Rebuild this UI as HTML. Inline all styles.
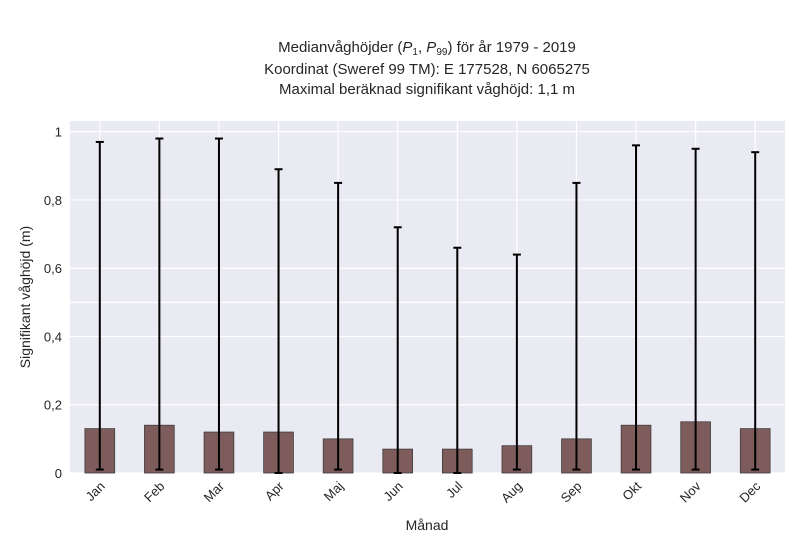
<!DOCTYPE html>
<html><head><meta charset="utf-8"><style>
body{margin:0;background:#fff;}
svg text{font-family:"Liberation Sans",sans-serif;fill:#262626;}
</style></head><body>
<svg id="chart" width="800" height="550" xmlns="http://www.w3.org/2000/svg">
<g>
<text x="427" y="52" font-size="15" text-anchor="middle">Medianvåghöjder (<tspan font-style="italic">P</tspan><tspan font-size="10" dy="3">1</tspan><tspan dy="-3">, </tspan><tspan font-style="italic">P</tspan><tspan font-size="10" dy="3">99</tspan><tspan dy="-3">) för år 1979 - 2019</tspan></text>
<text x="427" y="74" font-size="15" text-anchor="middle">Koordinat (Sweref 99 TM): E 177528, N 6065275</text>
<text x="427" y="94" font-size="15" text-anchor="middle">Maximal beräknad signifikant våghöjd: 1,1 m</text>
</g>
<rect x="70" y="121" width="715" height="352" fill="#eaeaf2"/>
<g id="grid"></g><g id="bars"></g><g id="axes"></g>
<text x="427" y="530" font-size="14" text-anchor="middle">Månad</text>
<text transform="translate(30,297) rotate(-90)" font-size="14" text-anchor="middle">Signifikant våghöjd (m)</text>
</svg>
<script>
const months=["Jan","Feb","Mar","Apr","Maj","Jun","Jul","Aug","Sep","Okt","Nov","Dec"];
const median=[0.13,0.14,0.12,0.12,0.10,0.07,0.07,0.08,0.10,0.14,0.15,0.13];
const p1=[0.01,0.01,0.01,0.0,0.01,0.0,0.0,0.01,0.01,0.01,0.01,0.01];
const p99=[0.97,0.98,0.98,0.89,0.85,0.72,0.66,0.64,0.85,0.96,0.95,0.94];
const yTicks=[0,0.2,0.4,0.6,0.8,1];
const yTickLabels=["0","0,2","0,4","0,6","0,8","1"];
const NS="http://www.w3.org/2000/svg";
const L=70,R=785,T=121,B=473;
const band=(R-L)/months.length;
const x=i=>L+band*(i+0.5);
const y=v=>B-v*341.3;
function mk(tag,attrs,parent){const e=document.createElementNS(NS,tag);for(const k in attrs)e.setAttribute(k,attrs[k]);parent.appendChild(e);return e;}
const grid=document.getElementById('grid'),bars=document.getElementById('bars'),axes=document.getElementById('axes');
[...yTicks,0.5].forEach(v=>{const l=mk('line',{x1:L,x2:R,y1:y(v),y2:y(v),stroke:'#fff','stroke-width':1.2},grid);

});
yTicks.forEach((v,i)=>{const t=mk('text',{x:L-8,y:y(v)+5,'font-size':13,'text-anchor':'end'},axes);t.textContent=yTickLabels[i];

});
months.forEach((m,i)=>{
const g=mk('line',{x1:x(i),x2:x(i),y1:T,y2:B,stroke:'#fff','stroke-width':1.2},grid);


const w=band*0.5;
const r=mk('rect',{x:x(i)-w/2,y:y(median[i]),width:w,height:B-y(median[i]),fill:'#7f5c5c',stroke:'#3d3d3d','stroke-width':0.8},bars);


const eg=mk('g',{stroke:'#000','stroke-width':2},bars);


mk('line',{x1:x(i),x2:x(i),y1:y(p99[i]),y2:y(p1[i])},eg);
mk('line',{x1:x(i)-4,x2:x(i)+4,y1:y(p99[i]),y2:y(p99[i])},eg);
mk('line',{x1:x(i)-4,x2:x(i)+4,y1:y(p1[i]),y2:y(p1[i])},eg);
const t=mk('text',{'font-size':13,'text-anchor':'end',transform:`translate(${x(i)+6},${B+14}) rotate(-45)`},axes);t.textContent=m;


});
</script>
</body></html>
